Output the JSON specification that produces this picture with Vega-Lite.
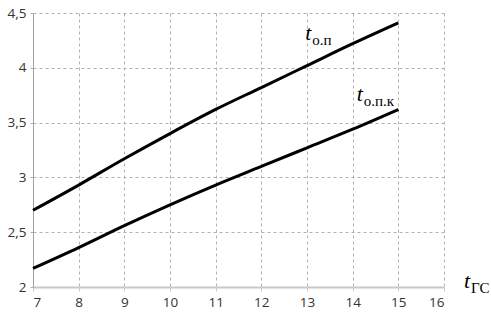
{
  "$schema": "https://vega.github.io/schema/vega-lite/v6.json",
  "width": 411,
  "height": 274,
  "autosize": {"type": "none"},
  "padding": {"left": 33, "top": 13, "right": 47, "bottom": 32},
  "background": "white",
  "config": {"view": {"stroke": null}},
  "datasets": {
    "lines": [
      {"series": "op", "x": 7, "y": 2.70}, {"series": "op", "x": 8, "y": 2.93}, {"series": "op", "x": 9, "y": 3.17},
      {"series": "op", "x": 10, "y": 3.40}, {"series": "op", "x": 11, "y": 3.62}, {"series": "op", "x": 12, "y": 3.82},
      {"series": "op", "x": 13, "y": 4.02}, {"series": "op", "x": 14, "y": 4.22}, {"series": "op", "x": 15, "y": 4.41},
      {"series": "opk", "x": 7, "y": 2.17}, {"series": "opk", "x": 8, "y": 2.36}, {"series": "opk", "x": 9, "y": 2.56},
      {"series": "opk", "x": 10, "y": 2.75}, {"series": "opk", "x": 11, "y": 2.93}, {"series": "opk", "x": 12, "y": 3.10},
      {"series": "opk", "x": 13, "y": 3.27}, {"series": "opk", "x": 14, "y": 3.44}, {"series": "opk", "x": 15, "y": 3.62}
    ],
    "labels": [
      {"x": 12.96, "y": 4.25, "main": "t", "sub": "о.п"},
      {"x": 14.09, "y": 3.70, "main": "t", "sub": "о.п.к"},
      {"x": 16.44, "y": 1.99, "main": "t", "sub": "ГС"}
    ]
  },
  "layer": [
    {
      "data": {"name": "lines"},
      "mark": {"type": "line", "color": "black", "strokeWidth": 3, "interpolate": "monotone"},
      "encoding": {
        "x": {"field": "x", "type": "quantitative",
          "scale": {"domain": [7, 16], "nice": false, "zero": false},
          "axis": {"title": null, "values": [7,8,9,10,11,12,13,14,15,16], "grid": true, "gridDash": [3, 3], "gridColor": "#b0b0b0",
            "domainColor": "#c8c8c8", "domainWidth": 2, "ticks": true, "tickColor": "#c8c8c8", "tickSize": 4,
            "labelFont": "Open Sans", "labelFontSize": 13.5, "labelColor": "#333", "labelPadding": 4}},
        "y": {"field": "y", "type": "quantitative",
          "scale": {"domain": [2, 4.5], "nice": false, "zero": false},
          "axis": {"title": null, "values": [2, 2.5, 3, 3.5, 4, 4.5], "grid": true, "gridDash": [3, 3], "gridColor": "#b0b0b0",
            "domainColor": "#a0a0a0", "domainWidth": 1, "ticks": true, "tickDash": [3, 3], "tickColor": "#b0b0b0", "tickSize": 5,
            "labelExpr": "replace(format(datum.value, '~g'), '.', ',')",
            "labelFont": "Open Sans", "labelFontSize": 13.5, "labelColor": "#333", "labelPadding": 2}},
        "detail": {"field": "series"}
      }
    },
    {
      "data": {"name": "labels"},
      "mark": {"type": "text", "font": "Liberation Serif", "fontStyle": "italic", "fontSize": 22, "align": "left", "baseline": "alphabetic", "color": "black", "clip": false},
      "encoding": {
        "x": {"field": "x", "type": "quantitative"},
        "y": {"field": "y", "type": "quantitative"},
        "text": {"field": "main"}
      }
    },
    {
      "data": {"name": "labels"},
      "mark": {"type": "text", "font": "Liberation Serif", "fontSize": 15, "align": "left", "baseline": "alphabetic", "color": "black", "dx": 7, "dy": 5, "clip": false},
      "encoding": {
        "x": {"field": "x", "type": "quantitative"},
        "y": {"field": "y", "type": "quantitative"},
        "text": {"field": "sub"}
      }
    }
  ]
}
